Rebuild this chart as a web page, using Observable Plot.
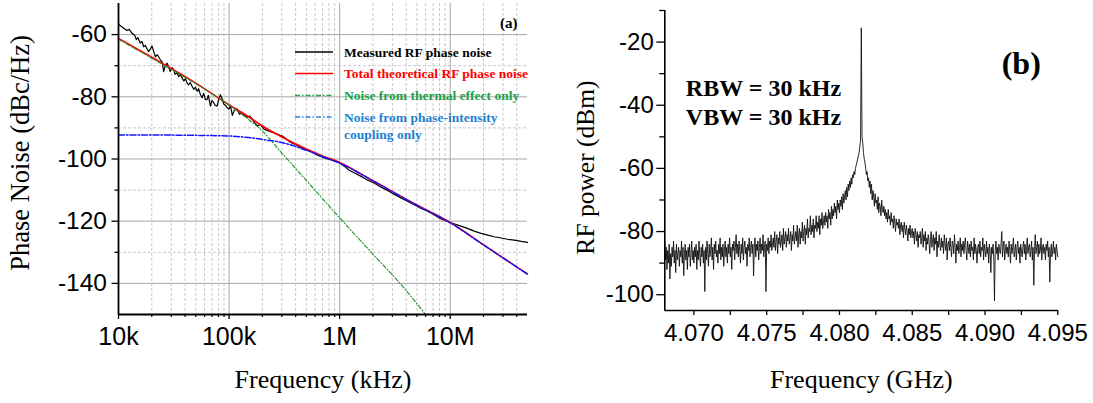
<!DOCTYPE html>
<html>
<head>
<meta charset="utf-8">
<script src="https://cdn.jsdelivr.net/npm/d3@7"></script>
<script src="https://cdn.jsdelivr.net/npm/@observablehq/plot@0.6"></script>
<style>
  body { margin: 0; background: #fff; }
  #wrap { position: relative; width: 1093px; height: 403px; overflow: hidden; background: #fff; }
  #pa, #pb { position: absolute; top: 0; }
  #pa { left: 0; }
  #pb { left: 546px; }
</style>
</head>
<body>
<div id="wrap"><div id="pa"></div><div id="pb"></div></div>
<script>
// ---------------- Panel (a) data ----------------
const measuredFreqHz = [1e4,1.02e4,1.1e4,1.19e4,1.25e4,1.32e4,1.4e4,1.45e4,1.5e4,1.57e4,1.63e4,1.69e4,1.75e4,1.87e4,2.01e4,2.1e4,2.15e4,2.25e4,2.39e4,2.48e4,2.56e4,2.65e4,2.75e4,2.85e4,2.94e4,3.05e4,3.15e4,3.25e4,3.38e4,3.5e4,3.62e4,3.76e4,3.9e4,4.02e4,4.17e4,4.3e4,4.45e4,4.63e4,4.8e4,4.97e4,5.14e4,5.3e4,5.5e4,5.7e4,5.9e4,6.1e4,6.32e4,6.5e4,6.78e4,7.0e4,7.26e4,7.5e4,7.8e4,8.1e4,8.35e4,8.6e4,8.95e4,9.3e4,9.6e4,1.0e5,1.03e5,1.07e5,1.12e5,1.18e5,1.24e5,1.31e5,1.38e5,1.46e5,1.54e5,1.62e5,1.7e5,1.8e5,1.93e5,2.07e5,2.22e5,2.37e5,2.55e5,2.73e5,2.9e5,3.03e5,3.3e5,3.6e5,4.0e5,4.44e5,4.9e5,5.47e5,6.1e5,6.74e5,7.5e5,8.3e5,9.0e5,9.88e5,1.1e6,1.22e6,1.38e6,1.55e6,1.8e6,2.05e6,2.35e6,2.71e6,3.1e6,3.58e6,4.1e6,4.72e6,5.4e6,6.25e6,7.2e6,8.26e6,1.0e7,1.25e7,1.45e7,1.65e7,1.9e7,2.19e7,2.5e7,2.88e7,3.3e7,3.8e7,4.4e7,5.0e7];
const measuredDb = [-56.5,-56.9,-57.8,-58.7,-58.3,-59.5,-60.2,-61.6,-61.0,-62.7,-62.2,-63.9,-63.5,-65.5,-63.7,-65.8,-67.1,-66.5,-68.1,-68.8,-71.9,-70.0,-69.2,-70.5,-71.9,-70.6,-71.2,-72.8,-72.3,-73.5,-72.9,-73.9,-74.9,-74.2,-75.5,-76.2,-75.4,-76.6,-77.6,-76.9,-78.2,-77.4,-79.2,-80.3,-78.9,-80.8,-80.9,-79.5,-83.0,-81.2,-81.9,-82.8,-83.0,-80.5,-79.3,-80.4,-82.3,-82.8,-83.5,-83.9,-82.7,-86.0,-84.2,-83.9,-85.6,-85.0,-86.1,-86.6,-86.2,-87.1,-88.4,-89.3,-89.0,-90.4,-90.8,-91.2,-91.6,-92.0,-92.4,-92.6,-93.6,-94.7,-95.3,-96.2,-96.9,-97.6,-98.5,-99.2,-99.8,-100.2,-100.7,-101.1,-102.3,-103.6,-104.6,-105.5,-106.8,-107.7,-109.0,-110.1,-111.3,-112.5,-113.6,-114.7,-115.8,-116.8,-118.0,-119.3,-120.4,-121.6,-122.4,-123.2,-123.9,-124.5,-125.0,-125.4,-125.8,-126.1,-126.5,-126.8];

const theoryFreqHz = [1e4,2e4,5e4,1e5,1.5e5,2e5,2.92e5,5e5,7e5,1e6,2e6,5e6,1e7,2e7,3.95e7,5e7];
const totalTheoryDb = [-61.2,-67.3,-75.6,-82.6,-86.4,-89.4,-92.7,-96.8,-99.0,-101.1,-107.0,-114.8,-120.4,-127.6,-134.6,-137.0];
const couplingDb = [-92.3,-92.3,-92.4,-92.6,-93.1,-93.7,-94.6,-97.2,-99.2,-101.3,-107.0,-114.9,-120.5,-127.6,-134.6,-137.0];
const thermalFreqHz = [1e4,2e4,5e4,1e5,1.5e5,2e5,2.92e5,5e5,1e6,2e6,3.58e6,6.05e6];
const thermalDb = [-61.5,-67.6,-75.8,-82.7,-87.3,-91.0,-97.6,-106.9,-118.9,-130.6,-140.3,-150.2];

const freqTicksA = [1e4,1e5,1e6,1e7];
const freqTickLabelsA = ["10k","100k","1M","10M"];
const freqMinorA = [2e4,3e4,4e4,5e4,6e4,7e4,8e4,9e4,2e5,3e5,4e5,5e5,6e5,7e5,8e5,9e5,2e6,3e6,4e6,5e6,6e6,7e6,8e6,9e6,2e7,3e7,4e7];
const dbTicksA = [-60,-80,-100,-120,-140];
const dbMinorA = [-70,-90,-110,-130];
const xDomainA = [1e4, 5e7];
const yDomainA = [-150, -50];

const seriesNames = ["Measured RF phase noise","Total theoretical RF phase noise","Noise from thermal effect only","Noise from phase-intensity\ncoupling only"];
const seriesTextColors = ["#000000","#ff0000","#22a048","#1f7fd0"];
const seriesKeyColors = ["#000000","#ff0000","#22a84a","#2a80d8"];
const seriesKeyDash = [null,null,"5,2,1.5,2","5,2,1.5,2"];

// ---------------- Panel (b) data ----------------
const specStartGHz = 4.068;
const specStepGHz = 0.00005;
const spectrumDbm = [
-83,-89,-85,-92,-86,-90,-84,-95,-87,-91,
-85,-88,-83,-90,-86,-93,-84,-89,-87,-85,
-91,-86,-88,-83,-90,-85,-94,-87,-84,-89,
-86,-92,-85,-88,-84,-91,-87,-83,-89,-86,
-90,-85,-88,-84,-92,-86,-89,-83,-87,-91,
-85,-88,-84,-90,-86,-99,-85,-89,-83,-87,
-91,-84,-88,-86,-82,-89,-85,-92,-84,-87,
-83,-88,-86,-90,-84,-87,-82,-89,-85,-88,
-84,-91,-86,-83,-88,-85,-90,-84,-87,-82,
-88,-85,-92,-84,-86,-83,-89,-85,-81,-87,
-84,-88,-83,-86,-90,-84,-87,-82,-89,-85,
-83,-87,-85,-91,-84,-86,-82,-88,-85,-83,
-87,-84,-94,-85,-82,-88,-84,-86,-83,-89,
-85,-82,-87,-84,-86,-81,-88,-85,-83,-99,
-84,-86,-82,-87,-83,-85,-81,-86,-84,-82,
-85,-80,-86,-83,-81,-87,-82,-84,-80,-85,
-83,-81,-86,-79,-84,-82,-80,-85,-81,-83,
-79,-84,-82,-80,-86,-81,-83,-78,-84,-82,
-80,-83,-78,-85,-81,-79,-84,-80,-82,-77,
-83,-80,-78,-84,-79,-81,-76,-82,-79,-80,
-75,-81,-78,-80,-76,-82,-78,-79,-75,-80,
-77,-79,-75,-81,-76,-78,-74,-79,-77,-75,
-78,-74,-77,-75,-79,-73,-76,-74,-78,-72,
-76,-73,-75,-71,-74,-72,-76,-70,-73,-71,
-74,-70,-72,-69,-73,-68,-71,-69,-67,-70,
-66,-69,-65,-67,-64,-66,-63,-65,-62,-63,
-61,-62,-60,-59,-58,-57,-56,-55,-53,-51,
-15.5,
-50,-52,-55,-57,-58,-60,-62,-61,-64,-63,
-66,-64,-68,-65,-70,-67,-69,-72,-68,-71,
-70,-73,-69,-74,-71,-72,-75,-70,-73,-74,
-72,-75,-73,-76,-74,-77,-73,-76,-75,-78,
-74,-77,-76,-79,-75,-77,-80,-76,-78,-77,
-79,-76,-81,-78,-77,-80,-78,-82,-77,-79,
-81,-78,-80,-83,-79,-81,-78,-82,-80,-79,
-82,-80,-84,-79,-81,-83,-80,-85,-81,-82,
-80,-84,-82,-79,-85,-81,-83,-80,-86,-82,
-84,-81,-83,-87,-82,-80,-85,-83,-81,-86,
-82,-84,-80,-88,-83,-85,-81,-84,-86,-82,
-85,-83,-87,-81,-84,-86,-82,-89,-84,-83,
-86,-82,-85,-88,-83,-84,-87,-81,-85,-90,
-84,-86,-83,-87,-85,-82,-88,-84,-86,-83,
-87,-84,-82,-86,-89,-83,-85,-87,-84,-88,
-83,-86,-85,-89,-82,-87,-84,-86,-90,-85,
-84,-87,-83,-88,-85,-86,-82,-89,-84,-86,
-88,-83,-87,-85,-90,-84,-86,-93,-85,-87,
-84,-88,-102,-86,-83,-87,-85,-89,-84,-86,
-87,-84,-80,-88,-85,-83,-89,-86,-84,-87,
-85,-88,-83,-86,-90,-84,-87,-85,-82,-88,
-86,-84,-89,-85,-83,-87,-85,-90,-84,-86,
-88,-85,-83,-87,-84,-89,-86,-82,-87,-85,
-84,-88,-86,-83,-89,-85,-97,-86,-81,-87,
-85,-83,-88,-84,-87,-86,-82,-89,-85,-84,
-87,-85,-89,-84,-86,-83,-88,-85,-96,-87,
-84,-88,-86,-83,-87,-85,-89,-84,-86,-88
];
const ghzTicksB = [4.070,4.075,4.080,4.085,4.090,4.095];
const ghzMinorB = [4.0725,4.0775,4.0825,4.0875,4.0925];
const dbmTicksB = [-20,-40,-60,-80,-100];
const dbmMinorB = [-10,-30,-50,-70,-90];
const xDomainB = [4.068, 4.095];
const yDomainB = [-105, -10];
const annotB = ["RBW = 30 kHz","VBW = 30 kHz"];

// ---------------- build ----------------
const sans = "'Liberation Sans', Arial, Helvetica, sans-serif";
const serif = "'Liberation Serif', 'Times New Roman', Times, serif";
const hyphenFmt = (d) => String(d);

const measured = measuredFreqHz.map((f, i) => ({f, v: measuredDb[i]}));
const total = theoryFreqHz.map((f, i) => ({f, v: totalTheoryDb[i]}));
const coupling = theoryFreqHz.map((f, i) => ({f, v: couplingDb[i]}));
const thermal = thermalFreqHz.map((f, i) => ({f, v: thermalDb[i]}));

const plotA = Plot.plot({
  width: 546, height: 403,
  marginLeft: 118, marginRight: 19, marginTop: 3, marginBottom: 89,
  style: {fontFamily: sans, background: "#fff", color: "#000"},
  x: {type: "log", domain: xDomainA, label: null},
  y: {domain: yDomainA, label: null},
  marks: [
    Plot.gridX(freqMinorA, {stroke: "#c8c8c8", strokeOpacity: 1, strokeDasharray: "3,2"}),
    Plot.gridY(dbMinorA, {stroke: "#c8c8c8", strokeOpacity: 1, strokeDasharray: "3,2"}),
    Plot.gridX(freqTicksA.slice(1), {stroke: "#a8a8a8", strokeOpacity: 1}),
    Plot.gridY(dbTicksA, {stroke: "#a8a8a8", strokeOpacity: 1}),
    Plot.line(measured, {x: "f", y: "v", stroke: "#000", strokeWidth: 1.2}),
    Plot.line(total, {x: "f", y: "v", stroke: "#ff0000", strokeWidth: 1.6, curve: "monotone-x"}),
    Plot.line(thermal, {x: "f", y: "v", stroke: "#1f8f2a", strokeWidth: 1.1, strokeDasharray: "4,2,1,2", curve: "monotone-x", clip: true}),
    Plot.line(coupling, {x: "f", y: "v", stroke: "#1414ff", strokeWidth: 1.5, strokeDasharray: "6,2,1.5,2", curve: "monotone-x"}),
    Plot.ruleX([xDomainA[0]], {stroke: "#000", strokeWidth: 1.8}),
    Plot.ruleY([yDomainA[0]], {stroke: "#000", strokeWidth: 1.8}),
    Plot.axisY(dbMinorA, {tickSize: 3.5, tickFormat: () => "", strokeWidth: 1.3, label: null}),
    Plot.axisY(dbTicksA, {tickSize: 6.5, tickPadding: 5, fontSize: 24.5, strokeWidth: 1.3, label: null, tickFormat: hyphenFmt}),
    Plot.axisX(freqMinorA, {tickSize: 3, tickFormat: () => "", strokeWidth: 1.2, label: null}),
    Plot.axisX(freqTicksA, {tickSize: 5, tickPadding: 8, fontSize: 25, strokeWidth: 1.3, label: null,
      tickFormat: (d) => freqTickLabelsA[freqTicksA.indexOf(d)]}),
    Plot.text(["Frequency (kHz)"], {frameAnchor: "bottom", lineAnchor: "bottom", dy: 73, fontSize: 26, fontFamily: serif, fill: "#000"}),
    Plot.text(["Phase Noise (dBc/Hz)"], {frameAnchor: "left", textAnchor: "middle", lineAnchor: "middle", rotate: -90, dx: -98, dy: -6, fontSize: 26.5, fontFamily: serif, fill: "#000"}),
    Plot.text(["(a)"], {frameAnchor: "top-right", textAnchor: "end", lineAnchor: "bottom", dx: -10, dy: 24, fontSize: 15, fontWeight: "bold", fontFamily: serif, fill: "#000"})
  ]
});
document.getElementById("pa").appendChild(plotA);

// legend for panel (a)
{
  const svg = d3.select(plotA);
  const g = svg.append("g").attr("font-family", serif).attr("font-weight", "bold")
    .attr("font-size", 13.5).attr("text-anchor", "start");
  const rowY = [52, 73.5, 95.5, 117];
  seriesNames.forEach((name, i) => {
    const y = rowY[i];
    const ln = g.append("line").attr("x1", 295).attr("x2", 333).attr("y1", y).attr("y2", y)
      .attr("stroke", seriesKeyColors[i]).attr("stroke-width", 1.6);
    if (seriesKeyDash[i]) ln.attr("stroke-dasharray", seriesKeyDash[i]);
    name.split("\n").forEach((part, j) => {
      g.append("text").attr("x", 344).attr("y", y + 4.5 + j * 17.5)
        .attr("fill", seriesTextColors[i]).text(part);
    });
  });
}

const spectrum = spectrumDbm.map((v, i) => ({g: specStartGHz + i * specStepGHz, v}));

const plotB = Plot.plot({
  width: 547, height: 403,
  marginLeft: 118.3, marginRight: 35.7, marginTop: 10, marginBottom: 93,
  style: {fontFamily: sans, background: "#fff", color: "#000"},
  x: {domain: xDomainB, label: null},
  y: {domain: yDomainB, label: null},
  marks: [
    Plot.line(spectrum, {x: "g", y: "v", stroke: "#111", strokeWidth: 0.9}),
    Plot.ruleX([xDomainB[0]], {stroke: "#000", strokeWidth: 1.6}),
    Plot.ruleY([yDomainB[0]], {stroke: "#000", strokeWidth: 1.6}),
    Plot.axisY(dbmMinorB, {tickSize: 5, tickFormat: () => "", strokeWidth: 1.3, label: null}),
    Plot.axisY(dbmTicksB, {tickSize: 8, tickPadding: 3, fontSize: 24, strokeWidth: 1.3, label: null, tickFormat: hyphenFmt}),
    Plot.axisX(ghzMinorB, {tickSize: 5, tickFormat: () => "", strokeWidth: 1.3, label: null}),
    Plot.axisX(ghzTicksB, {tickSize: 5, tickPadding: 8, fontSize: 24, strokeWidth: 1.3, label: null, tickFormat: d3.format(".3f")}),
    Plot.text(["Frequency (GHz)"], {frameAnchor: "bottom", lineAnchor: "bottom", dy: 77, fontSize: 26, fontFamily: serif, fill: "#000"}),
    Plot.text(["RF power (dBm)"], {frameAnchor: "left", textAnchor: "middle", lineAnchor: "middle", rotate: -90, dx: -79, dy: 7, fontSize: 25.5, fontFamily: serif, fill: "#000"}),
    Plot.text(["(b)"], {frameAnchor: "top-right", textAnchor: "end", lineAnchor: "bottom", dx: -17, dy: 63, fontSize: 32, fontWeight: "bold", fontFamily: serif, fill: "#000"}),
    Plot.text([annotB[0]], {frameAnchor: "top-left", textAnchor: "start", lineAnchor: "bottom", dx: 21, dy: 85, fontSize: 24, fontWeight: "bold", fontFamily: serif, fill: "#000"}),
    Plot.text([annotB[1]], {frameAnchor: "top-left", textAnchor: "start", lineAnchor: "bottom", dx: 21, dy: 114, fontSize: 24, fontWeight: "bold", fontFamily: serif, fill: "#000"})
  ]
});
document.getElementById("pb").appendChild(plotB);
</script>
</body>
</html>
